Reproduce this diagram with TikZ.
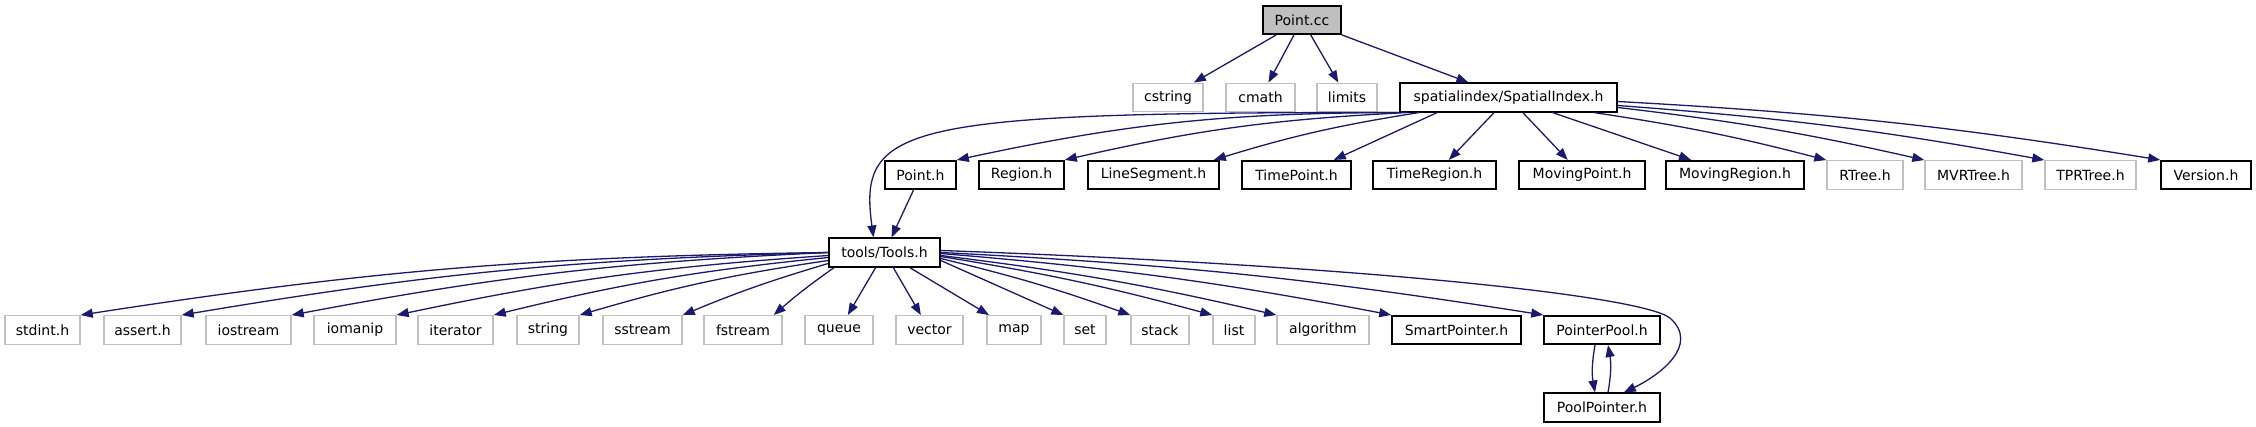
\documentclass[tikz,border=0pt]{standalone}
\usepackage{fontspec}
\setmainfont{DejaVu Sans}
\usetikzlibrary{arrows.meta}
\definecolor{edgeblue}{RGB}{25,25,112}
\definecolor{extgray}{RGB}{191,191,191}

\begin{document}
\begin{tikzpicture}[
    x=1pt, y=-1pt,
    hdr/.style={rectangle, draw=black, line width=1.6pt, minimum height=28.5pt, inner sep=0pt, text centered, font=\fontsize{14}{16}\selectfont},
    sys/.style={hdr, draw=extgray, line width=1.4pt},
    dep/.style={draw=edgeblue, line width=1.3pt, -{Triangle[length=12pt,width=9pt]}}
]
\useasboundingbox (0,0) rectangle (2256,427);

% Point.cc
\node (pointcc) [hdr, fill=extgray, minimum width=78pt] at (1302,20) {Point.cc};

% row 1
\node (cstring) [sys, minimum width=70pt] at (1168,97.5) {cstring};
\node (cmath) [sys, minimum width=69pt] at (1260.5,97.5) {cmath};
\node (limits) [sys, minimum width=60pt] at (1347,97.5) {limits};
\node (spatialindex) [hdr, minimum width=217pt] at (1508.5,97.5) {spatialindex/SpatialIndex.h};

% row 2
\node (pointh) [hdr, minimum width=71pt] at (920.5,175) {Point.h};
\node (regionh) [hdr, minimum width=85pt] at (1021.5,175) {Region.h};
\node (linesegmenth) [hdr, minimum width=131pt] at (1153.5,175) {LineSegment.h};
\node (timepointh) [hdr, minimum width=109pt] at (1296.5,175) {TimePoint.h};
\node (timeregionh) [hdr, minimum width=123pt] at (1434.5,175) {TimeRegion.h};
\node (movingpointh) [hdr, minimum width=126pt] at (1582,175) {MovingPoint.h};
\node (movingregionh) [hdr, minimum width=138pt] at (1735,175) {MovingRegion.h};
\node (rtreeh) [sys, minimum width=76pt] at (1865,175) {RTree.h};
\node (mvrtreeh) [sys, minimum width=97pt] at (1973.5,175) {MVRTree.h};
\node (tprtreeh) [sys, minimum width=91pt] at (2090.5,175) {TPRTree.h};
\node (versionh) [hdr, minimum width=90pt] at (2206,175) {Version.h};

% tools
\node (toolsh) [hdr, minimum width=111pt] at (884.5,252.5) {tools/Tools.h};

% row 3
\node (stdinth) [sys, minimum width=75pt] at (42.5,330) {stdint.h};
\node (asserth) [sys, minimum width=77pt] at (142.5,330) {assert.h};
\node (iostream) [sys, minimum width=85pt] at (248.5,330) {iostream};
\node (iomanip) [sys, minimum width=82pt] at (355,330) {iomanip};
\node (iterator) [sys, minimum width=75pt] at (455.5,330) {iterator};
\node (string) [sys, minimum width=62pt] at (548,330) {string};
\node (sstream) [sys, minimum width=79pt] at (642.5,330) {sstream};
\node (fstream) [sys, minimum width=78pt] at (743,330) {fstream};
\node (queue) [sys, minimum width=68pt] at (839,330) {queue};
\node (vector) [sys, minimum width=67pt] at (929.5,330) {vector};
\node (map) [sys, minimum width=54pt] at (1014,330) {map};
\node (set) [sys, minimum width=42pt] at (1085,330) {set};
\node (stack) [sys, minimum width=58pt] at (1160,330) {stack};
\node (list) [sys, minimum width=42pt] at (1234,330) {list};
\node (algorithm) [sys, minimum width=92pt] at (1323,330) {algorithm};
\node (smartpointerh) [hdr, minimum width=129pt] at (1456.5,330) {SmartPointer.h};
\node (pointerpoolh) [hdr, minimum width=116pt] at (1602,330) {PointerPool.h};
\node (poolpointerh) [hdr, minimum width=116pt] at (1602,407.5) {PoolPointer.h};

% Point.cc includes
\draw[dep] (pointcc) -- (cstring);
\draw[dep] (pointcc) -- (cmath);
\draw[dep] (pointcc) -- (limits);
\draw[dep] (pointcc) -- (spatialindex);

% SpatialIndex.h includes
\draw[dep] (spatialindex.south west) .. controls (900,112) and (858,125) .. ([xshift=-11]toolsh.north);
\draw[dep] (spatialindex.south west) to[bend right=6] (pointh.north east);
\draw[dep] ([xshift=8]spatialindex.south west) to[bend right=5] (regionh.north east);
\draw[dep] ([xshift=20]spatialindex.south west) to[bend right=4] ([xshift=-6]linesegmenth.north east);
\draw[dep] ([xshift=38]spatialindex.south west) -- ([xshift=-18]timepointh.north east);
\draw[dep] (spatialindex) -- (timeregionh);
\draw[dep] (spatialindex) -- (movingpointh);
\draw[dep] (spatialindex) -- (movingregionh);
\draw[dep] ([xshift=-24]spatialindex.south east) to[bend left=3] (rtreeh.north west);
\draw[dep] ([yshift=-10]spatialindex.east) to[bend left=3] (mvrtreeh.north west);
\draw[dep] ([yshift=-8]spatialindex.east) to[bend left=3] (tprtreeh.north west);
\draw[dep] ([yshift=-4]spatialindex.east) to[bend left=3] (versionh.north west);

% Point.h
\draw[dep] (pointh) -- (toolsh);

% Tools.h includes
\draw[dep] (toolsh.west) to[bend right=4] (stdinth.north east);
\draw[dep] (toolsh.west) to[bend right=4] (asserth.north east);
\draw[dep] (toolsh.west) to[bend right=4] (iostream.north east);
\draw[dep] ([yshift=-3]toolsh.west) to[bend right=4] (iomanip.north east);
\draw[dep] ([yshift=-5]toolsh.west) to[bend right=4] (iterator.north east);
\draw[dep] ([yshift=-8]toolsh.west) to[bend right=4] (string.north east);
\draw[dep] ([yshift=-11]toolsh.west) to[bend right=3] (sstream.north east);
\draw[dep] ([xshift=6]toolsh.south west) to[bend right=3] ([xshift=-9]fstream.north east);
\draw[dep] (toolsh) -- (queue);
\draw[dep] (toolsh) -- (vector);
\draw[dep] (toolsh) -- (map);
\draw[dep] ([yshift=-8]toolsh.east) -- (set.north west);
\draw[dep] ([yshift=-6]toolsh.east) to[bend left=3] (stack.north west);
\draw[dep] ([yshift=-4]toolsh.east) to[bend left=3] (list.north west);
\draw[dep] ([yshift=-3]toolsh.east) to[bend left=3] (algorithm.north west);
\draw[dep] ([yshift=-1]toolsh.east) to[bend left=3] (smartpointerh.north west);
\draw[dep] (toolsh.east) to[bend left=3] (pointerpoolh.north west);
\draw[dep] ([yshift=2]toolsh.east) .. controls (1350,265) and (1640,295) .. (1670,318)
    .. controls (1700,345) and (1660,375) .. ([xshift=-37]poolpointerh.north east);

% PointerPool.h / PoolPointer.h
\draw[dep] ([xshift=-7]pointerpoolh.south) to[bend right=10] ([xshift=-7]poolpointerh.north);
\draw[dep] ([xshift=6]poolpointerh.north) to[bend right=10] ([xshift=6]pointerpoolh.south);

\end{tikzpicture}
\end{document}
